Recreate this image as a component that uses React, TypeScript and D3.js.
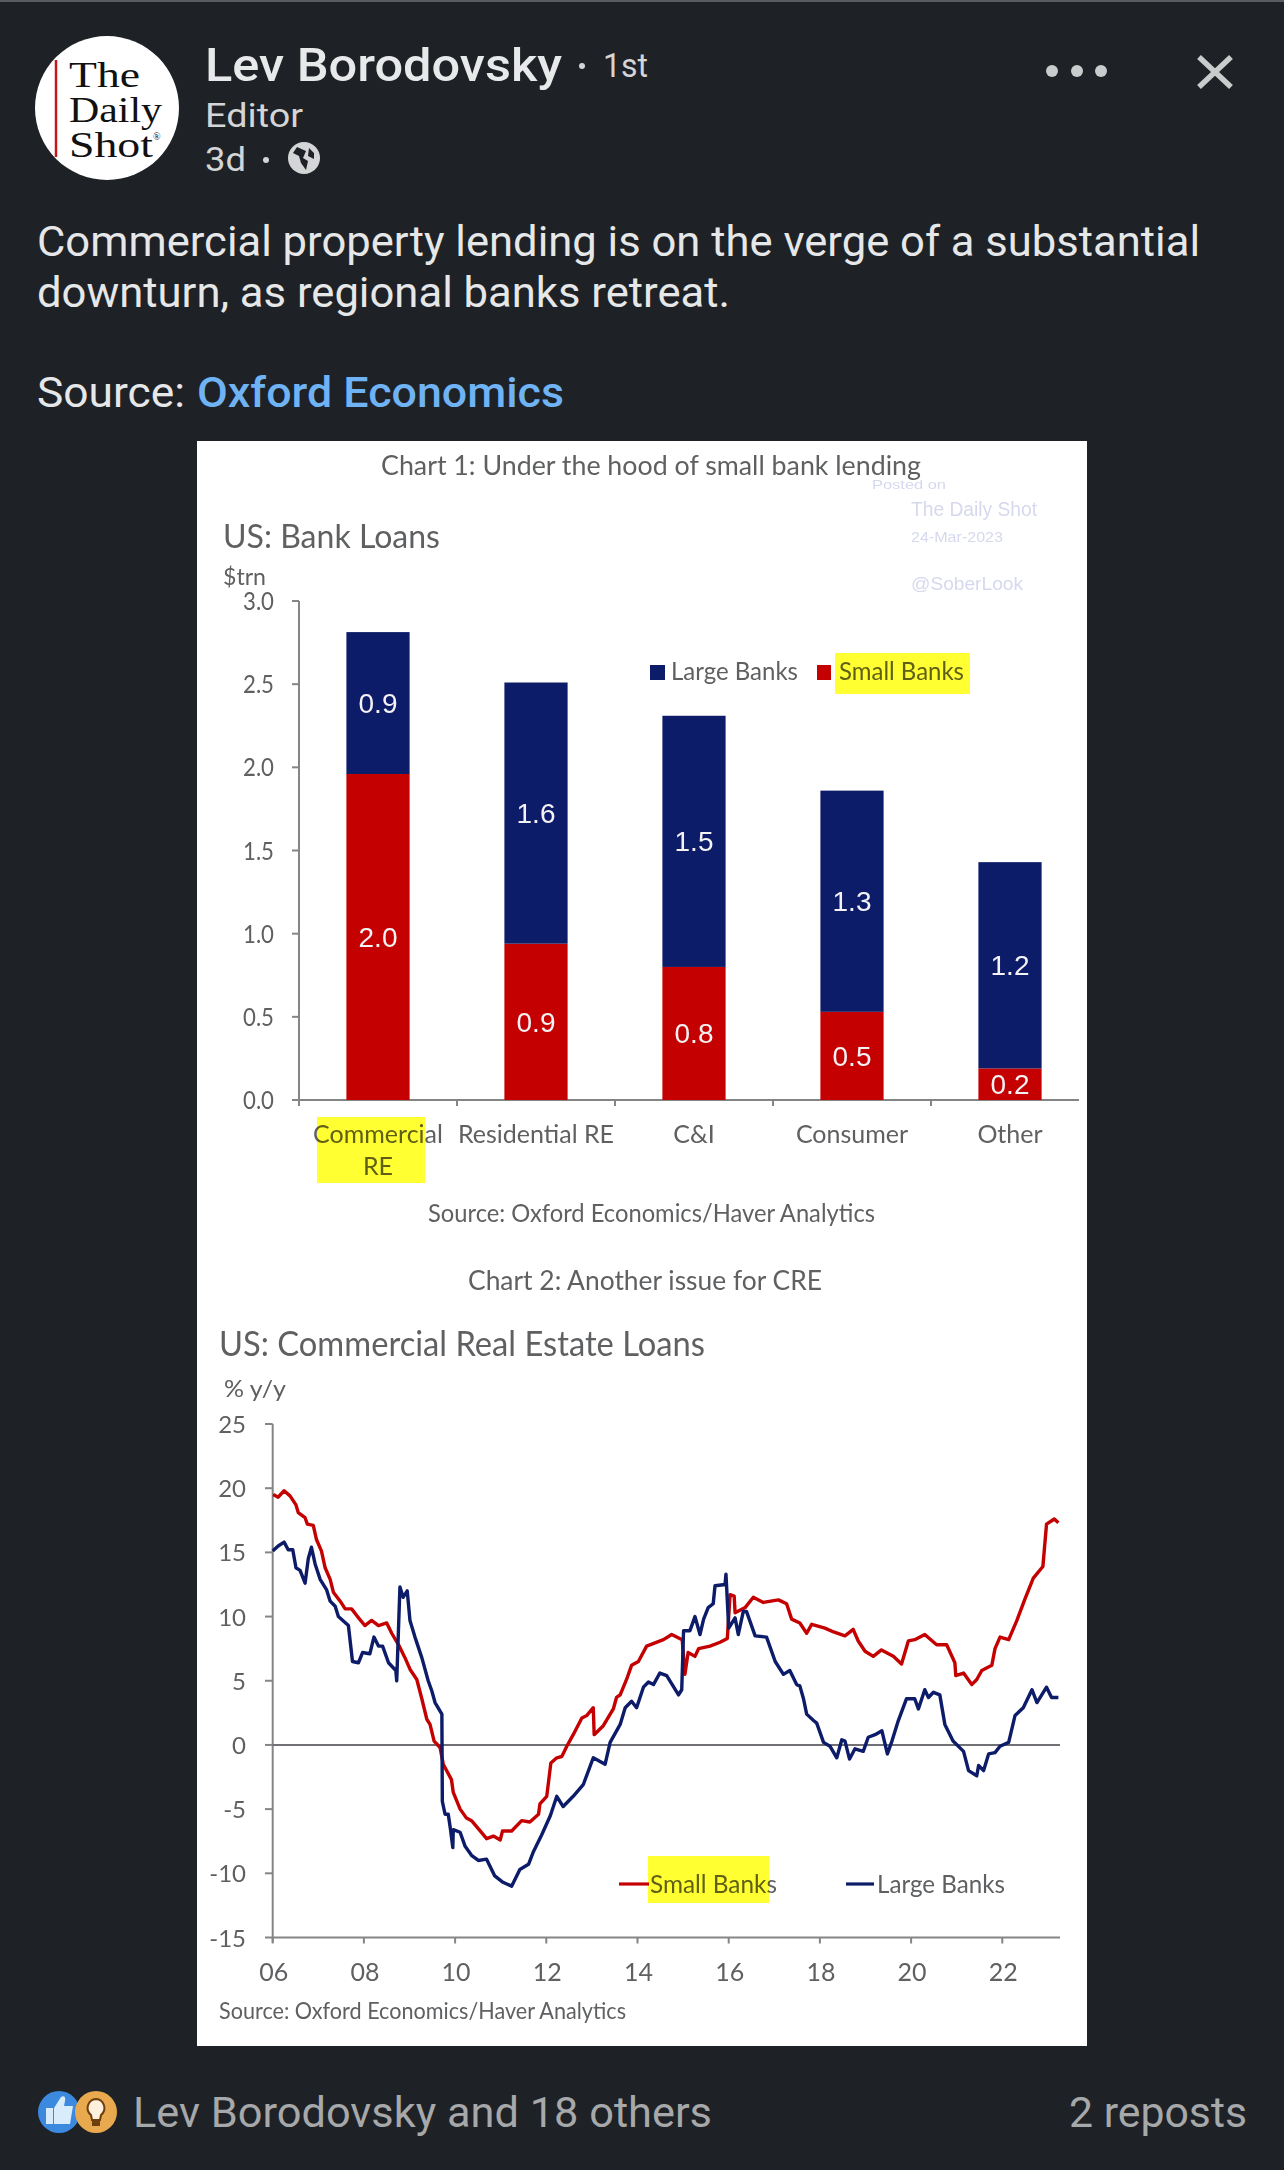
import React from "react";
import * as d3 from "d3";

const categories = ["Commercial RE", "Residential RE", "C&I", "Consumer", "Other"];
const smallBanks = [1.96, 0.94, 0.8, 0.53, 0.19];
const largeBanks = [0.853, 1.57, 1.51, 1.33, 1.24];
const barTicks = [0, 0.5, 1, 1.5, 2, 2.5, 3];

const lineYTicks = [25, 20, 15, 10, 5, 0, -5, -10, -15];
const lineXTicks = [2006, 2008, 2010, 2012, 2014, 2016, 2018, 2020, 2022];

// Years are written as years since 2006, values in % y/y.
const smallYears = [0.01, 0.12, 0.25, 0.38, 0.51, 0.56, 0.71, 0.76, 0.89, 0.96, 1.07, 1.15, 1.26, 1.33, 1.48, 1.59, 1.73, 1.86, 2.02, 2.17, 2.32, 2.5, 2.61, 2.76, 2.9, 3.01, 3.16, 3.27, 3.38, 3.45, 3.54, 3.67, 3.74, 3.92, 3.96, 4.11, 4.25, 4.36, 4.55, 4.69, 4.84, 4.99, 5.04, 5.24, 5.46, 5.64, 5.83, 5.86, 6.01, 6.1, 6.23, 6.34, 6.45, 6.59, 6.78, 6.89, 7.03, 7.05, 7.25, 7.47, 7.54, 7.62, 7.76, 7.87, 8.02, 8.2, 8.57, 8.75, 8.98, 9.04, 9.11, 9.26, 9.34, 9.59, 9.81, 9.97, 10.03, 10.12, 10.14, 10.36, 10.54, 10.76, 11.09, 11.27, 11.38, 11.56, 11.71, 11.82, 12.11, 12.3, 12.55, 12.73, 12.84, 12.99, 13.17, 13.35, 13.61, 13.79, 13.94, 14.08, 14.3, 14.56, 14.78, 14.96, 14.98, 15.15, 15.33, 15.44, 15.55, 15.77, 15.84, 15.95, 16.14, 16.32, 16.5, 16.68, 16.89, 16.97, 17.14, 17.23];
const smallValues = [19.5, 19.3, 19.8, 19.4, 18.7, 18.1, 17.7, 17.2, 17.1, 16, 15.1, 13.8, 12.9, 11.9, 11.2, 10.6, 10.6, 10, 9.3, 9.7, 9.3, 9.5, 8.7, 7.8, 6.8, 5.9, 5.1, 3.6, 2, 1.6, 0.3, -0.2, -1.5, -2.7, -3.7, -5, -5.7, -5.9, -6.7, -7.3, -7.1, -7.4, -6.7, -6.7, -5.9, -6, -5.4, -4.6, -4, -1.4, -1, -0.9, -0.1, 0.8, 2.1, 2.3, 2.9, 0.8, 1.5, 2.8, 3.7, 3.9, 5.1, 6.2, 6.5, 7.7, 8.2, 8.6, 8.2, 5.5, 7.2, 6.9, 7.5, 7.7, 8, 8.3, 11.7, 11.6, 10.3, 10.7, 11.5, 11.1, 11.3, 11, 9.8, 9.5, 8.7, 9.4, 9.1, 8.8, 8.5, 9, 8.1, 7.3, 6.9, 7.4, 6.9, 6.3, 8.1, 8.2, 8.6, 7.8, 7.8, 6.4, 5.4, 5.6, 4.7, 5.1, 5.8, 6.2, 7.5, 8.4, 8.2, 9.7, 11.4, 13, 13.9, 17.2, 17.6, 17.3];

const largeYears = [0, 0.12, 0.25, 0.34, 0.44, 0.51, 0.6, 0.71, 0.78, 0.85, 0.93, 1.04, 1.18, 1.26, 1.37, 1.44, 1.66, 1.75, 1.88, 1.97, 2.13, 2.22, 2.32, 2.41, 2.54, 2.7, 2.72, 2.79, 2.86, 2.95, 3.01, 3.12, 3.27, 3.41, 3.49, 3.56, 3.71, 3.72, 3.78, 3.85, 3.9, 3.95, 3.96, 4.11, 4.22, 4.36, 4.51, 4.69, 4.87, 5.05, 5.24, 5.42, 5.61, 5.72, 5.9, 6.09, 6.23, 6.37, 6.59, 6.81, 7.03, 7.29, 7.4, 7.62, 7.73, 7.87, 7.98, 8.13, 8.24, 8.35, 8.49, 8.64, 8.9, 8.97, 9.01, 9.15, 9.26, 9.37, 9.45, 9.55, 9.66, 9.7, 9.92, 9.94, 10, 10.14, 10.21, 10.32, 10.39, 10.58, 10.83, 11.02, 11.2, 11.34, 11.49, 11.56, 11.64, 11.71, 11.86, 11.93, 12.08, 12.22, 12.37, 12.48, 12.55, 12.65, 12.77, 12.95, 13.06, 13.21, 13.36, 13.48, 13.58, 13.72, 13.9, 14.08, 14.16, 14.3, 14.38, 14.49, 14.63, 14.74, 14.92, 15.15, 15.26, 15.44, 15.48, 15.59, 15.7, 15.84, 15.95, 16.14, 16.28, 16.46, 16.65, 16.76, 16.97, 17.08, 17.23];
const largeValues = [15.1, 15.5, 15.8, 15.2, 15.2, 13.8, 13.6, 12.6, 14.5, 15.4, 14.1, 12.9, 12.1, 11.2, 10.8, 10, 9.3, 6.5, 6.4, 7.2, 7.1, 8.4, 7.7, 7.7, 6.4, 5.8, 5, 12.3, 11.5, 12, 9.7, 8.4, 6.8, 5, 4.2, 3.3, 2.4, -4.4, -5.4, -5.4, -6.6, -8, -6.6, -6.8, -7.9, -8.6, -9, -8.9, -10.2, -10.7, -11, -9.7, -9.3, -8.3, -7, -5.5, -4, -4.8, -4, -3.1, -1, -1.5, 0.2, 1.6, 2.9, 3.4, 2.9, 4.5, 4.9, 4.7, 5.6, 5.4, 3.9, 4.3, 8.9, 8.9, 10, 8.6, 9.8, 10.7, 11, 12.4, 12.5, 13.3, 9.1, 9.9, 8.6, 10.4, 10.4, 8.5, 8.4, 6.5, 5.5, 5.8, 4.7, 4.6, 3.6, 2.4, 1.9, 1.7, 0.2, -0.1, -1, 0.4, 0.3, -1.1, -0.3, -0.5, 0.6, 0.8, 1.1, -0.7, 0.3, 1.9, 3.6, 3.6, 2.8, 4.3, 3.7, 4.1, 3.9, 1.6, 0.3, -0.5, -2, -2.4, -1.6, -2, -0.7, -0.6, -0.1, 0.2, 2.3, 2.9, 4.3, 3.3, 4.5, 3.7, 3.7];

const NAVY = "#0c1a68";
const RED = "#c40000";
const GREY = "#5f6062";
const AXIS = "#858585";
const YELLOW = "#ffff33";
const WATERMARK = "#d6d9ee";
const CHART_FONT = "Lato, 'Open Sans', sans-serif";
const UI_FONT = "Roboto, Inter, sans-serif";
const SERIF = "'Liberation Serif', serif";
const SANS = "'Liberation Sans', sans-serif";

type TProps = { x: number; y: number; w?: number; s: number; c?: string; f?: string; wt?: number; a?: string; children: React.ReactNode };
function T({ x, y, w, s, c = GREY, f = CHART_FONT, wt = 400, a = "start", children }: TProps) {
  return (
    <text x={x} y={y} fontSize={s} fill={c} fontFamily={f} fontWeight={wt} textAnchor={a}
      {...(w ? { textLength: w, lengthAdjust: "spacingAndGlyphs" } : {})}>
      {children}
    </text>
  );
}

function Header() {
  return (
    <g>
      <rect x={0} y={0} width={1284} height={2} fill="#5a5c5f" />
      <circle cx={107} cy={108} r={72} fill="#fff" />
      <line x1={56} x2={56} y1={60} y2={157} stroke="#c8161d" strokeWidth={2.5} />
      <T x={69} y={87} w={71} s={36} c="#111" f={SERIF}>The</T>
      <T x={69} y={122} w={93} s={36} c="#111" f={SERIF}>Daily</T>
      <T x={69} y={157} w={84} s={36} c="#111" f={SERIF}>Shot</T>
      <T x={153} y={140} s={10} c="#111" f={SERIF}>®</T>
      <T x={205} y={81} w={357} s={46} c="#e8e9ea" f={UI_FONT} wt={500}>Lev Borodovsky</T>
      <circle cx={582} cy={66} r={3} fill="#d4d5d6" />
      <T x={603} y={77} w={45} s={34} c="#d4d5d6" f={UI_FONT}>1st</T>
      <T x={205} y={127} w={98} s={34} c="#d4d5d6" f={UI_FONT}>Editor</T>
      <T x={205} y={171} w={41} s={34} c="#d4d5d6" f={UI_FONT}>3d</T>
      <circle cx={266} cy={160} r={3} fill="#d4d5d6" />
      <circle cx={304} cy={158} r={16} fill="#d4d5d6" />
      <path d="M297 147 l9 4 l-3 7 l5 3 l-2 9 l-5 -7 l-2 -7 l-6 -3 z M309 148 l5 5 l0 6 l-6 -3 z" fill="#1e2125" />
      {[1052, 1077, 1101].map((x) => <circle key={x} cx={x} cy={71} r={6} fill="#c9cbcd" />)}
      <path d="M1199 57 L1231 87 M1231 57 L1199 87" stroke="#c9cbcd" strokeWidth={5.5} />
      <T x={37} y={256} w={1163} s={42} c="#e6e7e8" f={UI_FONT}>Commercial property lending is on the verge of a substantial</T>
      <T x={37} y={307} w={693} s={42} c="#e6e7e8" f={UI_FONT}>downturn, as regional banks retreat.</T>
      <T x={37} y={407} w={148} s={42} c="#e6e7e8" f={UI_FONT}>Source:</T>
      <T x={197} y={407} w={367} s={42} c="#6fb3f5" f={UI_FONT} wt={500}>Oxford Economics</T>
    </g>
  );
}

function Footer() {
  return (
    <g>
      <circle cx={59} cy={2112} r={21} fill="#3b8ae0" />
      <path d="M46 2108 h7 v16 h-7 z M54 2108 l7 -11 c3 -2 5 0 4 4 l-1 5 h9 l-3 18 h-16 z" fill="#d8ecfb" />
      <circle cx={96} cy={2112} r={21} fill="#e9a94e" />
      <path d="M96 2099 a9 9 0 0 1 5 16 l-1 5 h-8 l-1 -5 a9 9 0 0 1 5 -16 z" fill="#fdf0dc" stroke="#6d3f0e" strokeWidth={2} />
      <rect x={92} y={2121} width={8} height={5} fill="#6d3f0e" />
      <T x={133} y={2127} w={579} s={42} c="#a6a8aa" f={UI_FONT}>Lev Borodovsky and 18 others</T>
      <T x={1069} y={2127} w={178} s={42} c="#a6a8aa" f={UI_FONT}>2 reposts</T>
    </g>
  );
}

function BarChart() {
  const x = d3.scaleBand<string>().domain(categories).range([299, 1089]).paddingInner(0.6).paddingOuter(0.3);
  const y = d3.scaleLinear().domain([0, 3]).range([1100, 601]);
  const rows = categories.map((c, i) => ({ c, small: smallBanks[i], large: largeBanks[i] }));
  const stack = d3.stack<any>().keys(["small", "large"])(rows);
  const colors = [RED, NAVY];
  return (
    <g>
      <T x={381} y={475} w={540} s={27}>Chart 1: Under the hood of small bank lending</T>
      <T x={872} y={488.5} w={74} s={13} c={WATERMARK} f={SANS}>Posted on</T>
      <T x={911} y={515.5} w={126} s={20} c={WATERMARK} f={SANS}>The Daily Shot</T>
      <T x={911} y={542} w={92} s={14} c={WATERMARK} f={SANS}>24-Mar-2023</T>
      <T x={911} y={589.5} w={112} s={19} c={WATERMARK} f={SANS}>@SoberLook</T>
      <T x={223} y={548} w={217} s={33}>US: Bank Loans</T>
      <T x={223} y={585} w={43} s={24}>$trn</T>

      <line x1={299} x2={299} y1={y(3)} y2={y(0) + 6} stroke={AXIS} strokeWidth={2} />
      {barTicks.map((t) => (
        <g key={t}>
          <line x1={292} x2={299} y1={y(t)} y2={y(t)} stroke={AXIS} strokeWidth={2} />
          <T x={243} y={y(t) + 9} w={31} s={25}>{t.toFixed(1)}</T>
        </g>
      ))}
      <line x1={299} x2={1079} y1={y(0)} y2={y(0)} stroke={AXIS} strokeWidth={2} />
      {d3.range(1, 5).map((i) => {
        const tx = 299 + x.step() * i;
        return <line key={i} x1={tx} x2={tx} y1={y(0)} y2={y(0) + 6} stroke={AXIS} strokeWidth={2} />;
      })}

      {stack.map((s, si) =>
        s.map((d, i) => (
          <g key={`${si}-${i}`}>
            <rect x={x(categories[i])} width={x.bandwidth()} y={y(d[1])} height={y(d[0]) - y(d[1])} fill={colors[si]} />
            <T x={x(categories[i])! + x.bandwidth() / 2} y={y((d[0] + d[1]) / 2) + 10} s={28} c="#f4f2f4" f={SANS} a="middle">
              {(d[1] - d[0]).toFixed(1)}
            </T>
          </g>
        )),
      )}

      {categories.map((c) => {
        const cx = x(c)! + x.bandwidth() / 2;
        const parts = c === "Commercial RE" ? ["Commercial", "RE"] : [c];
        return parts.map((p, i) => <T key={p} x={cx} y={1143 + i * 32} s={25} a="middle">{p}</T>);
      })}
      <rect x={317} y={1117} width={108} height={66} fill={YELLOW} style={{ mixBlendMode: "multiply" }} />

      <rect x={650} y={665} width={15} height={15} fill={NAVY} />
      <T x={671} y={680} w={127} s={25}>Large Banks</T>
      <rect x={817} y={665} width={14} height={15} fill={RED} />
      <T x={839} y={680} w={125} s={25}>Small Banks</T>
      <rect x={835} y={653} width={135} height={41} fill={YELLOW} style={{ mixBlendMode: "multiply" }} />

      <T x={428} y={1222} w={447} s={25}>Source: Oxford Economics/Haver Analytics</T>
    </g>
  );
}

function LineChart() {
  const x = d3.scaleLinear().domain([2006, 2022]).range([272.7, 1002.3]);
  const y = d3.scaleLinear().domain([-15, 25]).range([1937.5, 1424]);
  const line = d3.line<[number, number]>().x((d) => x(2006 + d[0])).y((d) => y(d[1])).curve(d3.curveLinear);
  const small = smallYears.map((v, i) => [v, smallValues[i]] as [number, number]);
  const large = largeYears.map((v, i) => [v, largeValues[i]] as [number, number]);
  return (
    <g>
      <T x={468} y={1290} w={354} s={27}>Chart 2: Another issue for CRE</T>
      <T x={219} y={1356} w={486} s={35}>US: Commercial Real Estate Loans</T>
      <T x={224} y={1397} w={62} s={24}>% y/y</T>

      <line x1={x(2006)} x2={x(2006)} y1={y(25)} y2={y(-15) + 5} stroke={AXIS} strokeWidth={2} />
      {lineYTicks.map((t) => (
        <g key={t}>
          <line x1={265} x2={x(2006)} y1={y(t)} y2={y(t)} stroke={AXIS} strokeWidth={2} />
          <T x={246} y={y(t) + 9} s={24} a="end">{String(t)}</T>
        </g>
      ))}
      <line x1={x(2006)} x2={1060} y1={y(-15)} y2={y(-15)} stroke={AXIS} strokeWidth={2} />
      <line x1={x(2006)} x2={1060} y1={y(0)} y2={y(0)} stroke="#6f7074" strokeWidth={2} />
      {lineXTicks.map((t) => (
        <g key={t}>
          <line x1={x(t)} x2={x(t)} y1={y(-15)} y2={y(-15) + 6} stroke={AXIS} strokeWidth={2} />
          <T x={x(t) + 1} y={1981} s={25} a="middle">{String(t).slice(2)}</T>
        </g>
      ))}

      <path d={line(small)!} fill="none" stroke={RED} strokeWidth={3.4} strokeLinejoin="round" />
      <path d={line(large)!} fill="none" stroke={NAVY} strokeWidth={3.4} strokeLinejoin="round" />

      <line x1={619} x2={649} y1={1884} y2={1884} stroke={RED} strokeWidth={3.2} />
      <T x={650} y={1893} w={127} s={25}>Small Banks</T>
      <rect x={648} y={1856} width={121} height={47} fill={YELLOW} style={{ mixBlendMode: "multiply" }} />
      <line x1={846} x2={874} y1={1884} y2={1884} stroke={NAVY} strokeWidth={3.2} />
      <T x={877} y={1893} w={128} s={25}>Large Banks</T>

      <T x={219} y={2019} w={407} s={23}>Source: Oxford Economics/Haver Analytics</T>
    </g>
  );
}

export default function App() {
  return (
    <svg width={1284} height={2170} viewBox="0 0 1284 2170"
      style={{ position: "absolute", left: 0, top: 0, display: "block", background: "#1e2125" }}>
      <defs>
        <filter id="soft" x="0" y="0" width="100%" height="100%">
          <feGaussianBlur stdDeviation="0.5" />
        </filter>
      </defs>
      <Header />
      <g filter="url(#soft)">
        <rect x={197} y={441} width={890} height={1605} fill="#fff" />
        <BarChart />
        <LineChart />
      </g>
      <Footer />
    </svg>
  );
}
